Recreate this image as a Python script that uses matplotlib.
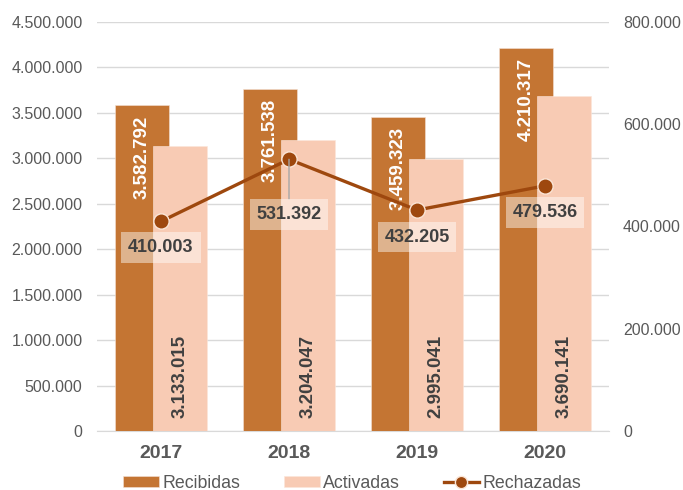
import matplotlib
matplotlib.use("Agg")
import matplotlib.pyplot as plt
import numpy as np
from matplotlib.ticker import FuncFormatter

plt.rcParams['font.family'] = ['Liberation Sans', 'DejaVu Sans']

years = ["2017", "2018", "2019", "2020"]
recibidas = [3582792, 3761538, 3459323, 4210317]
activadas = [3133015, 3204047, 2995041, 3690141]
rechazadas = [410003, 531392, 432205, 479536]
line_label_offsets = [26, 55, 27, 27]  # px below point

c_rec = "#C47533"
c_act = "#F8CBB4"
c_line = "#9E480E"
c_text = "#595959"
c_lab = "#404040"

def fmt(v):
    return f"{int(v):,}".replace(",", ".")

fig = plt.figure(figsize=(6.83, 4.9), dpi=100)
ax = fig.add_axes([97/683, 59/490, 512/683, 409/490])
ax2 = ax.twinx()
ax.set_zorder(1); ax.patch.set_visible(False)
ax2.set_zorder(2)

x = np.arange(len(years))
w = 0.42
off = 0.146
b1 = ax.bar(x - off, recibidas, w, color=c_rec, edgecolor="#F3E2D6", linewidth=0.4, label="Recibidas", zorder=3)
b2 = ax.bar(x + off, activadas, w, color=c_act, edgecolor="#FBE6DA", linewidth=0.4, label="Activadas", zorder=4)

ax.set_xlim(-0.5, 3.5)
ax.set_ylim(0, 4500000)
ax.set_yticks(np.arange(0, 4500001, 500000))
ax.yaxis.set_major_formatter(FuncFormatter(lambda v, p: fmt(v)))
ax.grid(axis="y", color="#D9D9D9", linewidth=1.0, zorder=0)
ax.set_axisbelow(True)
for s in ax.spines.values():
    s.set_visible(False)
ax.spines["bottom"].set_visible(True)
ax.spines["bottom"].set_color("#D9D9D9")
ax.tick_params(axis="y", length=0, pad=10.5, labelsize=11.5, labelcolor=c_text)
ax.set_xticks(x)
ax.set_xticklabels(years, fontsize=14, fontweight="bold", color=c_text)
ax.tick_params(axis="x", length=0, pad=10)

for xi, v in zip(x, recibidas):
    ax.annotate(fmt(v), (xi - off, v), xytext=(0, -7.2), textcoords="offset points",
                rotation=90, ha="center", va="top", color="white", fontsize=13.5,
                fontweight="bold", zorder=6)
for xi, v in zip(x, activadas):
    ax.annotate(fmt(v), (xi + off, 0), xytext=(0, 9.4), textcoords="offset points",
                rotation=90, ha="center", va="bottom", color=c_lab, fontsize=13.5,
                fontweight="bold", zorder=6)

ax2.set_ylim(0, 800000)
ax2.set_yticks(np.arange(0, 800001, 200000))
ax2.yaxis.set_major_formatter(FuncFormatter(lambda v, p: fmt(v)))
ax2.tick_params(axis="y", length=0, pad=10, labelsize=11.5, labelcolor=c_text)
for s in ax2.spines.values():
    s.set_visible(False)

ln, = ax2.plot(x, rechazadas, color=c_line, linewidth=2.4, marker="o", markersize=11,
               markerfacecolor=c_line, markeredgecolor="#FBE5D6", markeredgewidth=1.0,
               label="Rechazadas", zorder=5)

for xi, v, o in zip(x, rechazadas, line_label_offsets):
    arrow = None
    if o > 40:
        arrow = dict(arrowstyle="-", color="#A6A6A6", lw=1.0, shrinkA=0, shrinkB=0)
    ax2.annotate(fmt(v), (xi, v), xytext=(0, -o * 0.72), textcoords="offset points",
                 ha="center", va="center", color=c_lab, fontsize=13, fontweight="bold",
                 bbox=dict(boxstyle="square,pad=0.38", facecolor="white", alpha=0.45, edgecolor="none"),
                 arrowprops=arrow, zorder=7)

fig.legend(handles=[b1, b2, ln], loc="center", bbox_to_anchor=(0.516, 7/490), ncol=3,
           frameon=False, fontsize=12.8, labelcolor=c_text, handlelength=2.0,
           handleheight=0.6, handletextpad=0.2, columnspacing=2.45, markerscale=0.8)

fig.text(368/683, 1 + 4/490, "y", ha="center", va="baseline", fontsize=15, fontweight="bold", color="black")

fig.savefig("out.png", dpi=100)
